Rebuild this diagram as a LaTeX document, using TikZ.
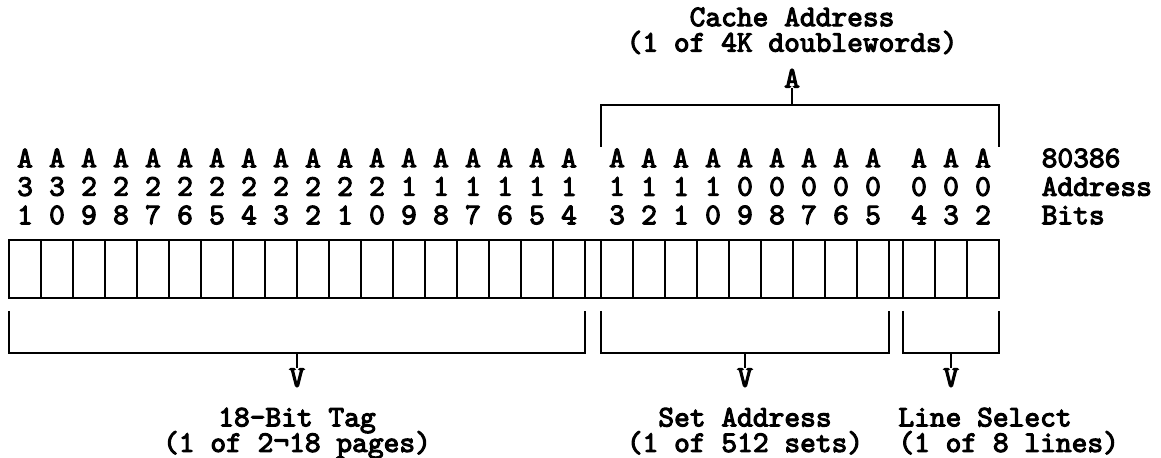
\documentclass[tikz,border=0pt]{standalone}
\usepackage{fontspec}
\setmonofont{lmmono10-regular}[Extension=.otf, AutoFakeBold=3.5]
\usetikzlibrary{positioning,calc}
\setlength{\lineskiplimit}{-20pt}
\begin{document}
\begin{tikzpicture}[
  x=0.5pt, y=-0.5pt,
  font=\ttfamily\bfseries\fontsize{15}{14.25}\selectfont,
  cell/.style={draw, line width=1.4pt, minimum width=16pt, minimum height=29pt, inner sep=0pt, outer sep=0pt},
  bitlbl/.style={align=center, inner sep=0pt},
  arrowch/.style={inner sep=0pt},
  lbl/.style={align=center, inner sep=0pt, font=\ttfamily\bfseries\fontsize{15}{12.75}\selectfont},
  brk/.style={line width=1.4pt}
]
\useasboundingbox (0,0) rectangle (1161,458);
% register cells, three groups
\foreach \b [count=\i from 0] in {31,30,...,14}
  \node[cell] (c\b) at ({25+32*\i},269) {};
\foreach \b [count=\i from 0] in {13,12,...,5}
  \node[cell] (c\b) at ({617+32*\i},269) {};
\foreach \b [count=\i from 0] in {4,3,2}
  \node[cell] (c\b) at ({919+32*\i},269) {};
\draw[brk] (c14.north east) -- (c13.north west) (c14.south east) -- (c13.south west);
\draw[brk] (c5.north east) -- (c4.north west) (c5.south east) -- (c4.south west);
% bit numbers above each cell
\foreach \b in {31,30,...,2} {
  \pgfmathtruncatemacro\tens{\b/10}
  \pgfmathtruncatemacro\ones{\b-10*\tens}
  \node[bitlbl] (l\b) at ([yshift=26.75pt]c\b.north) {A\\\tens\\\ones};
}
\node[bitlbl, align=left, right=25pt of l2] (abits) {80386\\Address\\Bits};
% cache address bracket
\coordinate (caL) at ($(c13.north west)+(0,-93)$);
\coordinate (caR) at ($(c2.north east)+(0,-93)$);
\coordinate (caM) at ($(caL)!0.48!(caR)+(0,-42)$);
\draw[brk] (caL) -- ++(0,-42) -| (caR);
\node[arrowch, above=8.5pt of caM] (caA) {A};
\draw[brk] (caM) -- (caA.south);
\node[lbl, above=7pt of caA] (catxt) {Cache Address\\(1 of 4K doublewords)};
% tag bracket
\coordinate (tagL) at ($(c31.south west)+(0,13)$);
\coordinate (tagR) at ($(c14.south east)+(0,13)$);
\coordinate (tagM) at ($(tagL)!0.5!(tagR)+(0,42)$);
\draw[brk] (tagL) -- ++(0,42) -| (tagR);
\node[arrowch, below=7.5pt of tagM] (tagV) {V};
\draw[brk] (tagM) -- (tagV.north);
\node[lbl, below=10pt of tagV] (tagtxt) {18-Bit Tag\\(1 of 2¬18 pages)};
% set address bracket
\coordinate (setL) at ($(c13.south west)+(0,13)$);
\coordinate (setR) at ($(c5.south east)+(0,13)$);
\coordinate (setM) at ($(setL)!0.5!(setR)+(0,42)$);
\draw[brk] (setL) -- ++(0,42) -| (setR);
\node[arrowch, below=7.5pt of setM] (setV) {V};
\draw[brk] (setM) -- (setV.north);
\node[lbl, below=10pt of setV] (settxt) {Set Address\\(1 of 512 sets)};
% line select bracket
\coordinate (lineL) at ($(c4.south west)+(0,13)$);
\coordinate (lineR) at ($(c2.south east)+(0,13)$);
\coordinate (lineM) at ($(lineL)!0.5!(lineR)+(0,42)$);
\draw[brk] (lineL) -- ++(0,42) -| (lineR);
\node[arrowch, below=7.5pt of lineM] (lineV) {V};
\draw[brk] (lineM) -- (lineV.north);
\node[lbl, align=left, anchor=north west] (linetxt) at ($(lineV.south -| c4.west)+(-5,20)$) {Line Select\\(1 of 8 lines)};
\end{tikzpicture}
\end{document}
